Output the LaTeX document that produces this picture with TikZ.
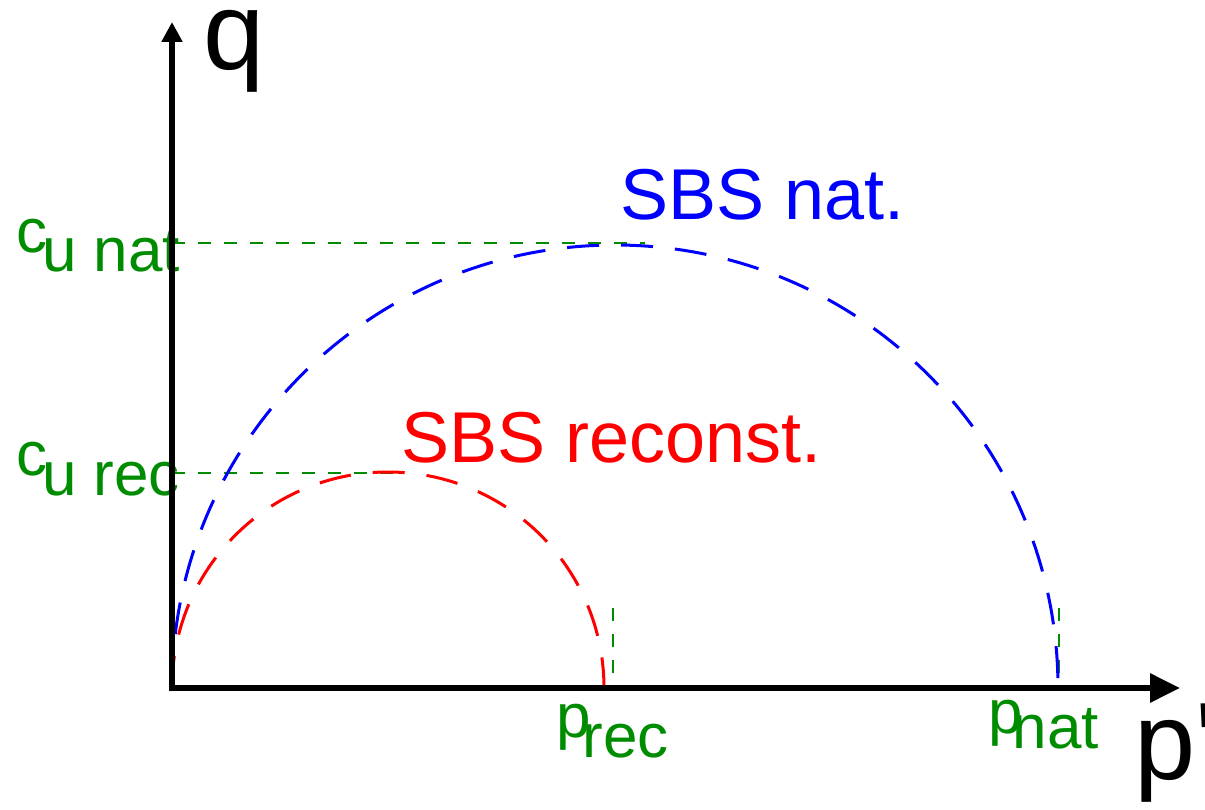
\documentclass[tikz,border=0pt]{standalone}
\usepackage{fontspec}
\setmainfont{Liberation Sans}
\usetikzlibrary{arrows.meta}
\definecolor{Mohr_Green}{RGB}{0,140,0}
\definecolor{Mohr_Blue}{RGB}{0,0,255}
\definecolor{Mohr_Red}{RGB}{255,0,0}

\begin{document}
\begin{tikzpicture}[x=1pt, y=-1pt,
    guide/.style={Mohr_Green, line width=1.5pt, dash pattern=on 13pt off 13pt},
    mohr/.style={line width=3pt, dash pattern=on 32pt off 22pt},
    greenlabel/.style={Mohr_Green, anchor=base west, inner sep=0pt, font=\fontsize{62}{62}\selectfont},
    circlelabel/.style={anchor=base west, inner sep=0pt, font=\fontsize{72}{72}\selectfont},
    axislabel/.style={anchor=base west, inner sep=0pt, font=\fontsize{110}{110}\selectfont}]
    \useasboundingbox (0,0) rectangle (1205,810);

    % Origin and axis tips
    \coordinate (O) at (172,688);
    \coordinate (qtip) at (172,22);
    \coordinate (ptip) at (1180,688);

    % Failure points (p' end of each circle)
    \def\pnat{1058}
    \def\prec{604}
    \pgfmathsetmacro{\rnat}{(\pnat-172)/2}
    \pgfmathsetmacro{\rrec}{(\prec-172)/2}

    % Labels of the undrained strengths and of the p' values
    \node[greenlabel] (cunat) at (16,253) {c\kern-5pt\raisebox{-19pt}{u nat}};
    \node[greenlabel] (curec) at (16,475) {c\kern-5pt\raisebox{-20pt}{u rec}};
    \node[greenlabel] (prec) at (556,737) {p\kern-8pt\raisebox{-20pt}{rec}};
    \node[greenlabel] (pnat) at (988,733) {p\kern-10pt\raisebox{-15pt}{nat}};

    % Guide lines
    \coordinate (cunatL) at (172,243);
    \coordinate (cunatR) at (645,243);
    \coordinate (curecL) at (172,473);
    \coordinate (curecR) at (395,473);
    \draw[guide] (cunatL) -- (cunatR);
    \draw[guide] (curecL) -- (curecR);
    \coordinate (precT) at (613,608);
    \coordinate (precB) at (613,688);
    \coordinate (pnatT) at (1059,608);
    \coordinate (pnatB) at (1059,688);
    \draw[guide] (precT) -- (precB);
    \draw[guide] (pnatT) -- (pnatB);

    % Mohr circles (upper halves)
    \draw[mohr, Mohr_Blue] (O) arc[start angle=180, end angle=360, radius=\rnat];
    \draw[mohr, Mohr_Red] (O) arc[start angle=180, end angle=360, radius=\rrec];

    \node[circlelabel, Mohr_Blue] (sbsnat) at (620,220) {SBS nat.};
    \node[circlelabel, Mohr_Red] (sbsrec) at (401,462) {SBS reconst.};

    % Axes
    \draw[line width=6pt, arrows={Triangle[length=20pt,width=20pt]-Triangle[length=30pt,width=28pt]}]
        (qtip) -- (O) -- (ptip);
    \node[axislabel] (qlab) at (203,70) {q};
    \node[axislabel] (plab) at (1134,779) {p\textquotesingle};

\end{tikzpicture}
\end{document}
